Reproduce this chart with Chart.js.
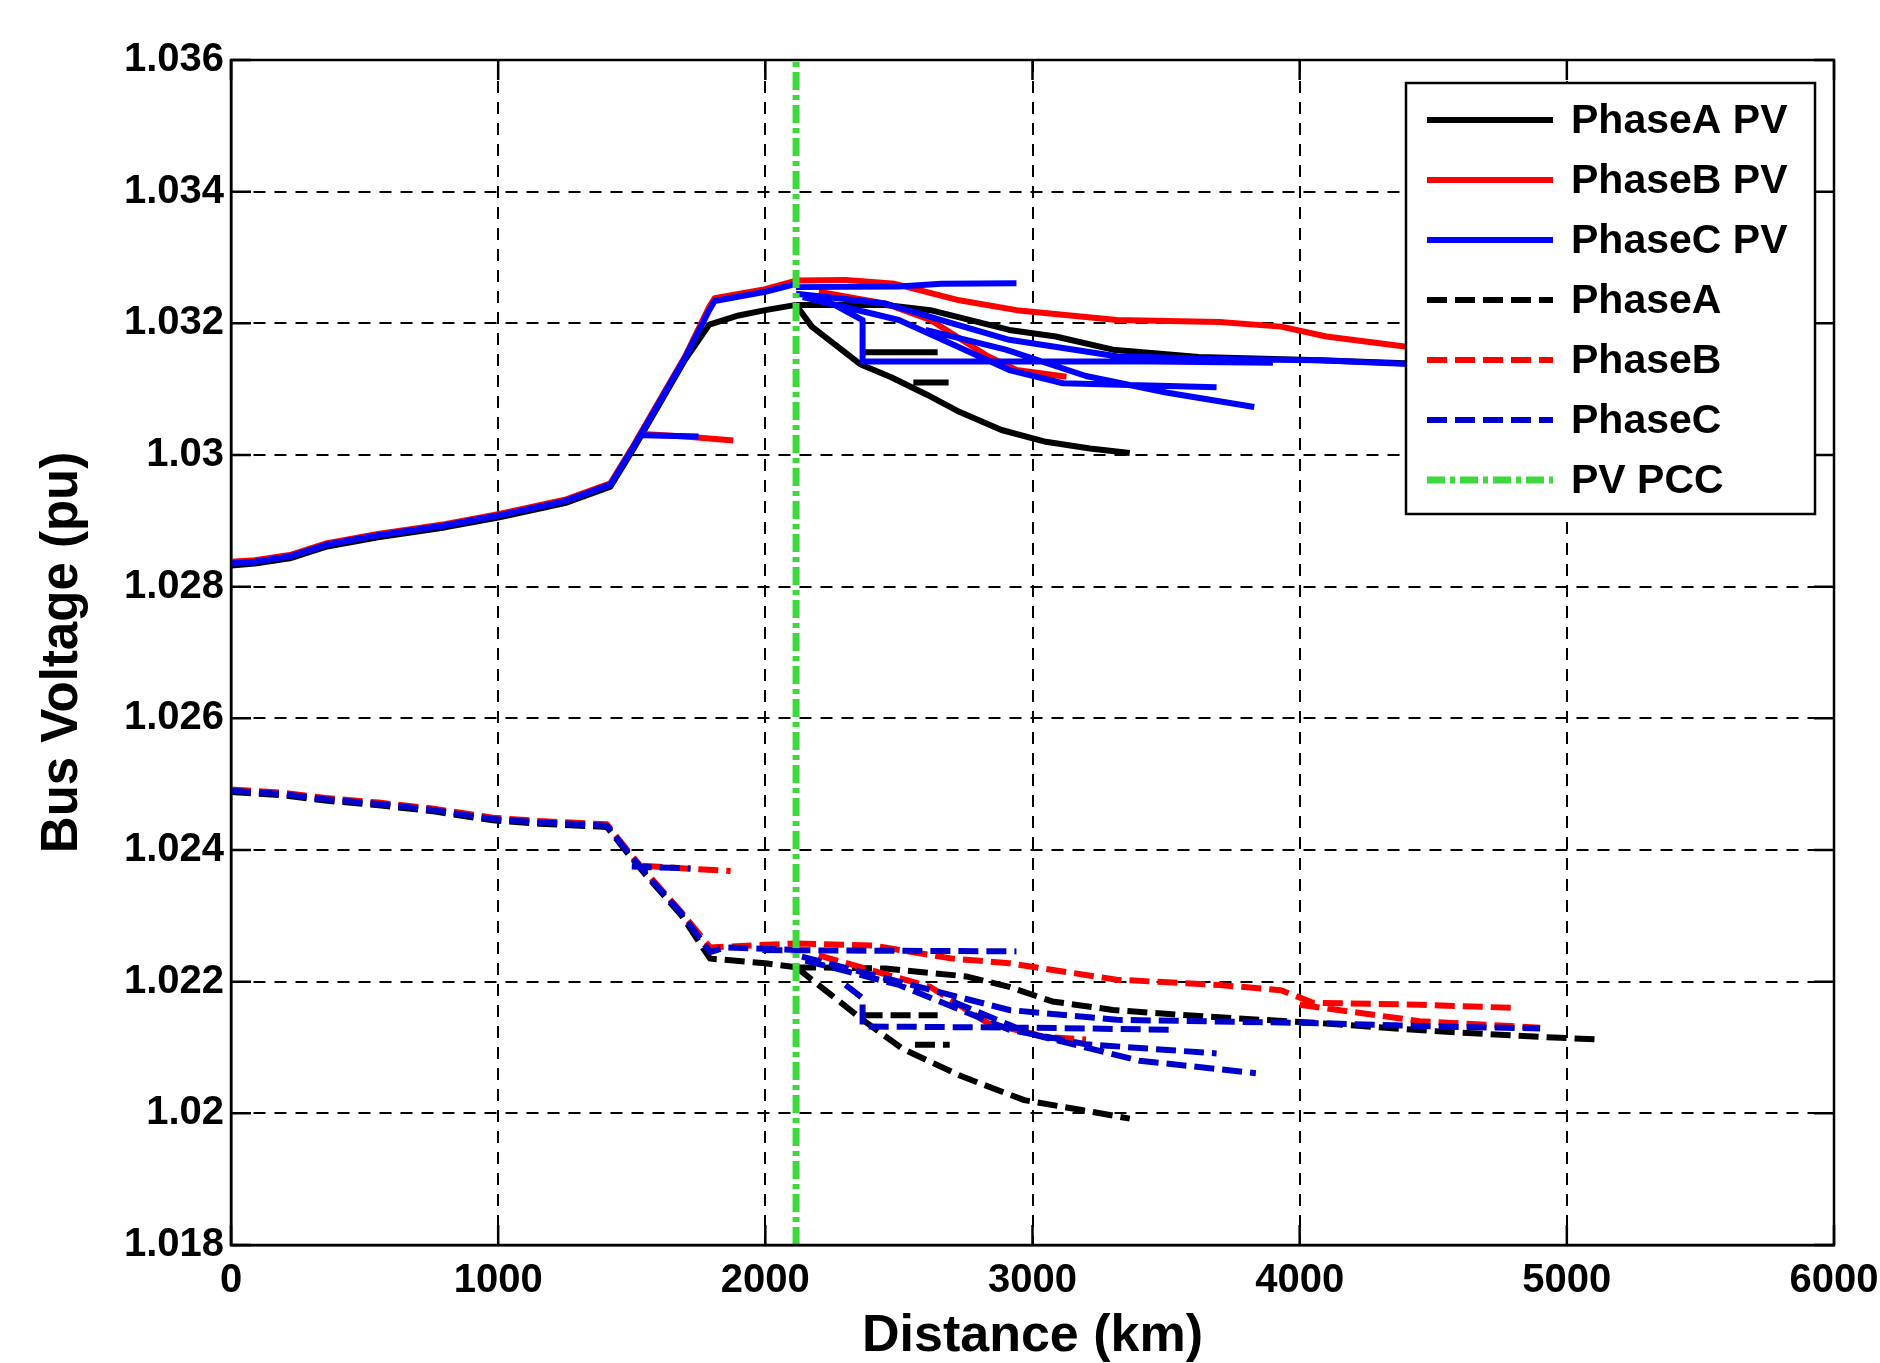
<!DOCTYPE html>
<html>
<head>
<meta charset="utf-8">
<script src="https://cdn.jsdelivr.net/npm/chart.js@4.4.1/dist/chart.umd.min.js"></script>
<style>
  html, body { margin: 0; padding: 0; background: #fff; }
  #wrap { width: 1880px; height: 1363px; }
</style>
</head>
<body>
<div id="wrap"><canvas id="chart"></canvas></div>
<script>
// axis ticks
const xTicks = [0, 1000, 2000, 3000, 4000, 5000, 6000];
const yTicks = [1.018, 1.020, 1.022, 1.024, 1.026, 1.028, 1.030, 1.032, 1.034, 1.036];

// PV point of common coupling (km)
const pccDistance = 2115;

// each branch = [distances, voltages]
// ---- with PV ----
const phaseA_PV = [
    [[0, 90, 220, 360, 550, 800, 1000, 1250, 1420, 1500, 1600, 1700, 1790, 1900, 2000, 2115],
     [1.02832, 1.02835, 1.02843, 1.02861, 1.02875, 1.0289, 1.02905, 1.02927, 1.02952, 1.03005, 1.03075, 1.03145, 1.03198, 1.03212, 1.0322, 1.03228]],
    [[2115, 2174, 2273, 2355, 2471, 2603, 2719, 2884, 3050, 3215, 3364],
     [1.03228, 1.03195, 1.03164, 1.03138, 1.03118, 1.03092, 1.03067, 1.03038, 1.0302, 1.0301, 1.03003]],
    [[2355, 2645], [1.03156, 1.03156]],
    [[2554, 2686], [1.0311, 1.0311]],
    [[2115, 2450, 2618, 2913, 3087, 3301, 3622, 4075, 4500, 4900, 5100],
     [1.03228, 1.03228, 1.0322, 1.0319, 1.0318, 1.0316, 1.03149, 1.03144, 1.03138, 1.03132, 1.0313]]
];
const phaseB_PV = [
    [[0, 90, 220, 360, 550, 800, 1000, 1250, 1420, 1500, 1600, 1700, 1790, 1810, 2000, 2115],
     [1.02838, 1.0284, 1.02848, 1.02866, 1.0288, 1.02895, 1.0291, 1.02932, 1.02957, 1.0301, 1.0308, 1.0315, 1.03225, 1.03238, 1.03252, 1.03265]],
    [[1540, 1700, 1880], [1.03032, 1.03028, 1.03022]],
    [[2115, 2300, 2485, 2726, 2940, 3315, 3700, 3930, 4100, 4430, 4900],
     [1.03265, 1.03266, 1.0326, 1.03235, 1.0322, 1.03205, 1.03202, 1.03195, 1.0318, 1.03163, 1.0315]],
    [[2200, 2450, 2618, 2833, 2940, 3127],
     [1.03248, 1.0323, 1.03205, 1.0315, 1.03129, 1.03119]]
];
const phaseC_PV = [
    [[0, 90, 220, 360, 550, 800, 1000, 1250, 1420, 1500, 1600, 1700, 1790, 1810, 2000, 2115],
     [1.02835, 1.02838, 1.02846, 1.02864, 1.02878, 1.02893, 1.02908, 1.0293, 1.02955, 1.03008, 1.03078, 1.03148, 1.0322, 1.03234, 1.03248, 1.0326]],
    [[1540, 1750], [1.0303, 1.03028]],
    [[2115, 2500, 2659, 2940], [1.03255, 1.03256, 1.0326, 1.03261]],
    [[2115, 2450, 2700, 2913, 3315, 3700, 4075, 4430, 4900],
     [1.03245, 1.0323, 1.032, 1.03175, 1.0315, 1.03146, 1.03144, 1.03138, 1.03132]],
    [[2250, 2364, 2364, 3000, 3448, 3900], [1.0323, 1.03205, 1.03142, 1.03142, 1.03142, 1.0314]],
    [[2140, 2500, 2913, 3114, 3400, 3689], [1.0324, 1.03205, 1.03129, 1.03109, 1.03106, 1.03103]],
    [[2600, 2900, 3200, 3500, 3830], [1.0319, 1.0316, 1.0312, 1.03095, 1.03073]]
];

// ---- without PV ----
const phaseA = [
    [[0, 193, 353, 553, 753, 980, 1153, 1407, 1487, 1553, 1687, 1793, 2000, 2115],
     [1.02488, 1.02483, 1.02475, 1.02468, 1.02459, 1.02445, 1.0244, 1.02435, 1.02394, 1.02362, 1.023, 1.02235, 1.02228, 1.02222]],
    [[2115, 2227, 2371, 2514, 2730, 2969, 3184, 3364],
     [1.02222, 1.02186, 1.0214, 1.02098, 1.02057, 1.0202, 1.02005, 1.01992]],
    [[2364, 2645], [1.02149, 1.02149]],
    [[2560, 2690], [1.02104, 1.02104]],
    [[2115, 2450, 2752, 2913, 3074, 3301, 3649, 4075, 4500, 4911, 5122],
     [1.02222, 1.0222, 1.02208, 1.02192, 1.0217, 1.02157, 1.02147, 1.02137, 1.02125, 1.02116, 1.02112]]
];
const phaseB = [
    [[0, 193, 353, 553, 753, 980, 1153, 1407, 1487, 1553, 1687, 1793, 2000, 2115],
     [1.02492, 1.02487, 1.02479, 1.02472, 1.02463, 1.02449, 1.02444, 1.02439, 1.02398, 1.02366, 1.02305, 1.02252, 1.02256, 1.02258]],
    [[1540, 1700, 1870], [1.02376, 1.02372, 1.02368]],
    [[2115, 2400, 2700, 2913, 3315, 3700, 3930, 4050, 4450, 4811],
     [1.02258, 1.02255, 1.02235, 1.02228, 1.02203, 1.02195, 1.02187, 1.02168, 1.02165, 1.0216]],
    [[4000, 4450, 4900], [1.02165, 1.0214, 1.0213]],
    [[2200, 2618, 2833, 3047, 3200], [1.0224, 1.02192, 1.02137, 1.02116, 1.02112]]
];
const phaseC = [
    [[0, 193, 353, 553, 753, 980, 1153, 1407, 1487, 1553, 1687, 1793, 1850, 2000, 2115],
     [1.0249, 1.02485, 1.02477, 1.0247, 1.02461, 1.02447, 1.02442, 1.02437, 1.02396, 1.02364, 1.02303, 1.02245, 1.02252, 1.0225, 1.02248]],
    [[1500, 1720], [1.02375, 1.02372]],
    [[1989, 2400, 2940], [1.02248, 1.02247, 1.02246]],
    [[2137, 2500, 2913, 3315, 4075, 4500, 4900], [1.02238, 1.022, 1.02157, 1.02142, 1.02137, 1.02132, 1.02129]],
    [[2300, 2364, 2364, 3000, 3515], [1.02195, 1.02175, 1.02132, 1.0213, 1.02127]],
    [[2150, 2500, 2913, 3200, 3689], [1.02232, 1.02195, 1.02127, 1.02105, 1.02091]],
    [[2700, 3000, 3400, 3836], [1.0217, 1.0212, 1.0208, 1.02061]]
];

// flatten branches into one dataset, null y breaks the line between branches
function toPoints(branches) {
    const pts = [];
    branches.forEach((b, i) => {
        if (i > 0) pts.push({ x: b[0][0], y: null });
        b[0].forEach((x, j) => pts.push({ x: x, y: b[1][j] }));
    });
    return pts;
}

const FONT = "'Liberation Sans', Arial, sans-serif";
const DASH = [20, 8];

function series(label, branches, color, dash, order) {
    return {
        label: label,
        data: toPoints(branches),
        borderColor: color,
        backgroundColor: color,
        borderWidth: 6,
        borderDash: dash,
        borderJoinStyle: 'round',
        pointRadius: 0,
        tension: 0,
        spanGaps: false,
        order: order
    };
}

const datasets = [
    series('PhaseA PV', phaseA_PV, '#000000', [], 6),
    series('PhaseB PV', phaseB_PV, '#ff0000', [], 5),
    series('PhaseC PV', phaseC_PV, '#0000ff', [], 4),
    series('PhaseA', phaseA, '#000000', DASH, 3),
    series('PhaseB', phaseB, '#ff0000', DASH, 2),
    series('PhaseC', phaseC, '#0000cc', DASH, 1),
    {
        label: 'PV PCC',
        data: [{ x: pccDistance, y: yTicks[0] }, { x: pccDistance, y: yTicks[yTicks.length - 1] }],
        borderColor: '#3cd83c',
        borderWidth: 7,
        borderDash: [18, 5, 5, 5],
        pointRadius: 0,
        order: 0
    }
];

// box around the axes, inward ticks on all sides, legend inside the plot
const matlabFrame = {
    id: 'matlabFrame',
    afterDraw(chart) {
        const { ctx, chartArea: a, scales } = chart;
        ctx.save();
        ctx.setLineDash([]);
        ctx.strokeStyle = '#000';
        ctx.lineWidth = 2.5;
        ctx.strokeRect(a.left, a.top, a.width, a.height);

        const len = 20;
        ctx.beginPath();
        scales.x.ticks.forEach(t => {
            const px = scales.x.getPixelForValue(t.value);
            ctx.moveTo(px, a.bottom); ctx.lineTo(px, a.bottom - len);
            ctx.moveTo(px, a.top); ctx.lineTo(px, a.top + len);
        });
        scales.y.ticks.forEach(t => {
            const py = scales.y.getPixelForValue(t.value);
            ctx.moveTo(a.left, py); ctx.lineTo(a.left + len, py);
            ctx.moveTo(a.right, py); ctx.lineTo(a.right - len, py);
        });
        ctx.stroke();

        // legend
        const box = { left: 1406, top: 83, width: 409, height: 431 };
        ctx.fillStyle = '#fff';
        ctx.fillRect(box.left, box.top, box.width, box.height);
        ctx.lineWidth = 2.5;
        ctx.strokeRect(box.left, box.top, box.width, box.height);
        ctx.font = 'bold 41px ' + FONT;
        ctx.textBaseline = 'middle';
        chart.data.datasets.forEach((ds, i) => {
            const y = box.top + 37 + i * 60;
            ctx.strokeStyle = ds.borderColor;
            ctx.lineWidth = ds.borderWidth;
            ctx.setLineDash(ds.borderDash || []);
            ctx.beginPath();
            ctx.moveTo(box.left + 21, y);
            ctx.lineTo(box.left + 147, y);
            ctx.stroke();
            ctx.setLineDash([]);
            ctx.fillStyle = '#000';
            ctx.fillText(ds.label, box.left + 165, y + 2);
        });
        ctx.restore();
    }
};

new Chart(document.getElementById('chart'), {
    type: 'line',
    data: { datasets: datasets },
    options: {
        responsive: true,
        maintainAspectRatio: false,
        animation: false,
        layout: { padding: { top: 60, right: 46, left: 0, bottom: 0 } },
        plugins: { legend: { display: false }, tooltip: { enabled: false } },
        scales: {
            x: {
                type: 'linear',
                min: xTicks[0],
                max: xTicks[xTicks.length - 1],
                afterBuildTicks: s => { s.ticks = xTicks.map(v => ({ value: v })); },
                afterFit: s => { s.height = 118; s.paddingLeft = 0; s.paddingRight = 0; },
                ticks: {
                    autoSkip: false, maxRotation: 0, padding: 12, color: '#000',
                    font: { family: FONT, size: 40, weight: 'bold' },
                    callback: v => String(v)
                },
                grid: { color: '#000', lineWidth: 2, drawTicks: false },
                border: { display: true, color: '#000', width: 2.5, dash: [12, 9] },
                title: {
                    display: true, text: 'Distance (km)', color: '#000',
                    font: { family: FONT, size: 52, weight: 'bold', lineHeight: 1 },
                    padding: { top: 0, bottom: 0 }
                }
            },
            y: {
                min: yTicks[0],
                max: yTicks[yTicks.length - 1],
                afterBuildTicks: s => { s.ticks = yTicks.map(v => ({ value: v })); },
                afterFit: s => { s.width = 231; },
                ticks: {
                    padding: 7, color: '#000',
                    font: { family: FONT, size: 40, weight: 'bold' },
                    callback: v => String(+v.toFixed(3))
                },
                grid: { color: '#000', lineWidth: 2, drawTicks: false },
                border: { display: true, color: '#000', width: 2.5, dash: [12, 9] },
                title: {
                    display: true, text: 'Bus Voltage (pu)', color: '#000',
                    font: { family: FONT, size: 51, weight: 'bold', lineHeight: 1 },
                    padding: { top: 37, bottom: 0 }
                }
            }
        }
    },
    plugins: [matlabFrame]
});
</script>
</body>
</html>
